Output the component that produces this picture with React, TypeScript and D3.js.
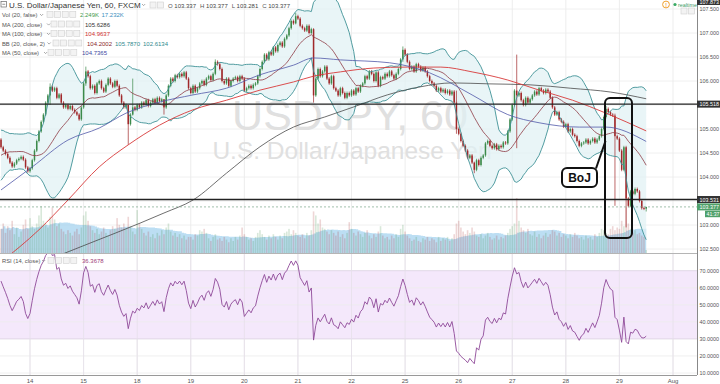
import React from 'react';
import * as d3 from 'd3';

const W = 720;
const H = 384;
const AXIS_X = 697;
const PRICE_BOTTOM = 253;
const RSI_TOP = 254;
const RSI_BOTTOM = 375;
const FONT = '"Liberation Sans", Arial, sans-serif';

// time axis: first hourly candle of each trading day
const dayLabels = ['14', '15', '18', '19', '20', '21', '22', '25', '26', '27', '28', '29', 'Aug'];
const DAY_START = 13;
const HOURS = 24;

// closes before the visible window (only feed BB / RSI)
const priorCloses = [
  103.95, 104.05, 104.0, 104.15, 104.1, 104.25, 104.2, 104.35, 104.3, 104.45,
  104.4, 104.55, 104.5, 104.62, 104.7, 104.65, 104.8, 104.75, 104.85, 104.78,
];

// hourly closes, USDJPY 60, FXCM
const closes = [
  104.62, 104.55, 104.48, 104.4, 104.3, 104.22, 104.28, 104.35, 104.38, 104.42, 104.36, 104.2, 104.12, 104.18,
  104.35, 104.55, 104.75, 104.95, 105.15, 105.3, 105.55, 105.7, 105.88, 105.8, 105.85, 105.65, 105.72,
  105.55, 105.45, 105.5, 105.42, 105.48, 105.4, 105.35, 105.3, 105.2, 105.45, 105.95, 106.2, 106.1,
  105.85, 105.9, 105.75, 105.95, 106.0, 105.85, 105.78, 105.92, 106.05, 105.95, 105.88, 106.0, 105.9,
  105.7, 105.55, 105.45, 105.5, 105.1, 105.3, 105.45, 105.4, 105.5, 105.45,
  105.55, 105.5, 105.6, 105.48, 105.55, 105.62, 105.55, 105.65, 105.58, 105.62, 105.45,
  105.7, 105.9, 106.05, 106.0, 106.12, 106.08, 106.15, 106.1, 106.18, 106.05, 105.85, 105.75, 105.9, 105.78,
  105.85, 105.95, 106.0, 105.92, 106.05, 106.1, 106.02, 106.15, 106.4, 106.35, 106.25,
  106.0, 105.95, 106.05, 105.9, 106.0, 106.05, 106.08, 106.0, 106.1, 106.05,
  105.8, 105.85, 105.9, 105.85, 105.92, 105.95, 106.1, 106.25, 106.4,
  106.55, 106.45, 106.6, 106.55, 106.7, 106.62, 106.75, 106.8, 106.72, 106.88, 106.95,
  107.1, 107.25, 107.2, 107.35, 107.3, 107.15, 107.1, 107.05, 107.15, 107.0, 107.08,
  105.7, 106.05, 106.25, 106.1, 106.2, 106.3, 106.05, 105.95, 106.1, 105.85,
  105.8, 105.7, 105.85, 105.75, 105.65, 105.75, 105.7, 105.8, 105.72, 105.85, 105.78, 105.9, 105.95,
  106.1, 106.05, 106.2, 106.15, 106.0, 106.18, 105.9, 106.08,
  106.05, 106.15, 106.1, 106.2, 106.12, 106.05, 106.15, 106.25, 106.45, 106.65, 106.55,
  106.4, 106.25, 106.3, 106.2, 106.35, 106.3, 106.22, 106.28, 106.2,
  106.1, 106.0, 105.95, 105.9, 105.8, 105.85, 105.78, 105.82, 105.75, 105.8, 105.72, 105.78,
  105.55, 105.0, 104.9, 104.75, 104.65, 104.55, 104.4, 104.45, 104.3, 104.15, 104.35, 104.25,
  104.4, 104.45, 104.7, 104.75, 104.65, 104.6, 104.68, 104.58, 104.65, 104.62, 104.72, 104.7,
  104.95, 105.2, 105.5, 105.8, 105.7, 105.75, 105.6, 105.5, 105.65, 105.55, 105.62,
  105.7, 105.78, 105.72, 105.85, 105.8, 105.75, 105.82, 105.78, 105.65,
  105.45, 105.3, 105.35, 105.2, 105.15, 105.05, 105.1, 104.95, 105.0, 104.88, 104.85, 104.75, 104.65, 104.7,
  104.72, 104.78, 104.7, 104.75, 104.8, 104.72, 104.78, 104.85, 105.0, 105.25, 105.42, 105.35, 105.3, 105.28,
  104.85, 104.8, 104.55, 104.15, 104.62, 103.55, 103.4, 103.7, 103.65, 103.75, 103.7, 103.5, 103.35, 103.34, 103.377,
];

// hourly volume, thousands
const volumes = [
  18, 22, 15, 20, 17, 24, 14, 19, 12, 16, 21, 25, 18,
  26, 20, 18, 22, 28, 35, 24, 22, 19, 27, 34, 25, 20, 22, 18, 16, 14, 17, 15, 13, 16, 18, 14, 19,
  28, 31, 24, 20, 17, 15, 18, 14, 16, 19, 15, 13, 17, 20, 18, 26, 21, 19, 22, 18, 27, 20, 16, 14,
  32, 22, 18, 15, 13, 16, 12, 14, 11, 15, 13, 17, 14, 19, 22, 16, 13, 15, 12, 14, 11, 13, 10, 12,
  12, 10, 14, 13, 17, 16, 18, 15, 11, 9, 12, 14, 10, 11, 9, 12, 10, 8, 11, 9, 12, 10, 13, 19,
  14, 12, 10, 11, 9, 12, 15, 17, 14, 12, 10, 13, 11, 14, 12, 10, 13, 11, 15, 16, 18, 14, 17, 15,
  13, 12, 14, 11, 15, 13, 17, 31, 28, 22, 25, 19, 18, 16, 14, 17, 15, 13, 16, 12, 14, 11, 15, 23,
  18, 15, 13, 16, 14, 12, 15, 17, 13, 11, 14, 12, 16, 20, 13, 11, 12, 10, 13, 11, 14, 12, 18, 21,
  16, 13, 11, 9, 10, 12, 9, 8, 11, 10, 12, 9, 11, 10, 8, 12, 9, 11, 10, 12, 9, 11, 14, 22,
  24, 19, 16, 14, 17, 15, 19, 16, 13, 12, 14, 11, 13, 15, 12, 10, 11, 13, 10, 12, 11, 13, 15, 18,
  20, 22, 41, 24, 19, 17, 15, 18, 14, 13, 16, 12, 14, 11, 13, 15, 12, 14, 17, 16, 13, 15, 12, 14,
  13, 11, 14, 12, 15, 13, 11, 12, 10, 13, 11, 12, 10, 14, 12, 15, 18, 17, 15, 14, 18, 20, 17, 19,
  18, 24, 20, 34, 22, 18, 15, 17, 14, 15, 13, 12, 2.249,
];

// [candle index, high, low] where the wick stands out
const longWicks: [number, number, number][] = [
  [22, 105.95, 105.5], [38, 106.3, 105.9], [57, 105.5, 104.67], [59, 106.05, 105.28],
  [73, 105.62, 105.3], [96, 106.45, 106.12], [132, 107.42, 107.18], [140, 107.1, 105.55],
  [180, 106.72, 106.4], [204, 105.8, 104.9], [212, 104.32, 104.08], [231, 106.55, 104.6],
  [271, 105.48, 105.22], [275, 105.32, 103.4], [280, 104.65, 102.95], [289, 103.377, 103.281],
];
const WICK = 0.03;

// moving averages: [candle index, price]
const ma50: [number, number][] = [
  [0, 103.73], [14, 104.21], [30, 104.77], [44, 105.02], [56, 105.33], [71, 105.56], [86, 105.71],
  [101, 105.85], [116, 106.13], [131, 106.33], [140, 106.48], [152, 106.44], [174, 106.38],
  [192, 106.17], [211, 105.71], [227, 105.3], [241, 105.13], [259, 105.04], [271, 105.04], [289, 104.74],
];
const ma100: [number, number][] = [
  [0, 102.23], [17, 102.9], [30, 103.52], [44, 104.21], [57, 104.67], [71, 105.08], [86, 105.4],
  [101, 105.6], [116, 105.81], [131, 105.98], [140, 106.1], [152, 106.19], [167, 106.27],
  [182, 106.29], [197, 106.29], [211, 106.19], [227, 106.02], [241, 105.81], [256, 105.6],
  [271, 105.33], [289, 104.96],
];
const ma200: [number, number][] = [
  [0, 101.88], [30, 102.44], [73, 103.25], [86, 103.52], [101, 104.08], [116, 104.63], [131, 105.04],
  [145, 105.25], [158, 105.46], [173, 105.71], [188, 105.88], [202, 105.96], [219, 105.94],
  [237, 105.92], [255, 105.85], [273, 105.77], [289, 105.63],
];

const priceTicks = [102.5, 103, 103.5, 104, 104.5, 105, 105.5, 106, 106.5, 107, 107.5];
const hiddenPriceLabels = [103.5, 105.5];
const rsiTicks = [10, 20, 30, 40, 50, 60, 70];

const levelLines = [105.518, 103.531];
const lastPrice = 103.377;
const countdown = '41:37';
const topLabel = '107.873';

const titleText = 'U.S. Dollar/Japanese Yen, 60, FXCM';
const ohlc = [['O', '103.337'], ['H', '103.377'], ['L', '103.281'], ['C', '103.377']];
const volLegend = ['2.249K', '17.232K'];
const ma200Legend = '105.6286';
const ma100Legend = '104.9637';
const bbLegend = ['104.2002', '105.7870', '102.6134'];
const ma50Legend = '104.7365';
const rsiLegend = '36.3678';

const AXIS_FONT = 5.4;

const Boxes = ({ x, y, n }: { x: number; y: number; n: number }) => (
  <g>
    {d3.range(n).map((k) => (
      <rect key={k} x={x + k * 7.6} y={y - 5.5} width={6} height={6} fill="#f3f3f3" stroke="#d0d0d0" strokeWidth={0.6} />
    ))}
  </g>
);

const Chevron = ({ x, y }: { x: number; y: number }) => (
  <path d={`M${x},${y - 3} l1.6,1.6 l1.6,-1.6`} fill="none" stroke="#888" strokeWidth={0.7} />
);

export default function App() {
  const x = d3.scaleLinear().domain([0, 301]).range([1, 673]);
  const y = d3.scaleLinear().domain([102.5, 107.5]).range([249, 9]);
  const yVol = d3.scaleLinear().domain([0, 41]).range([PRICE_BOTTOM, 198]);
  const yRsi = d3.scaleLinear().domain([10, 70]).range([373, 270.7]);

  const all = priorCloses.concat(closes);
  const OFF = priorCloses.length;

  // Bollinger (20, 2)
  const bb = closes.map((_, i) => {
    const win = all.slice(i + OFF - 19, i + OFF + 1);
    const m = d3.mean(win) as number;
    const sd = Math.sqrt(d3.mean(win, (v) => (v - m) ** 2) as number);
    return { i, mid: m, up: m + 2 * sd, lo: m - 2 * sd };
  });

  // RSI (14), Wilder smoothing
  const rsiAll: (number | null)[] = all.map(() => null);
  let g = 0, l = 0;
  for (let k = 1; k <= 14; k++) {
    const d = all[k] - all[k - 1];
    if (d > 0) g += d; else l -= d;
  }
  g /= 14; l /= 14;
  rsiAll[14] = 100 - 100 / (1 + g / l);
  for (let k = 15; k < all.length; k++) {
    const d = all[k] - all[k - 1];
    g = (g * 13 + Math.max(d, 0)) / 14;
    l = (l * 13 + Math.max(-d, 0)) / 14;
    rsiAll[k] = l === 0 ? 100 : 100 - 100 / (1 + g / l);
  }
  const rsi = closes.map((_, i) => [i, rsiAll[i + OFF] as number] as [number, number]);

  // volume MA (20)
  const volMa = volumes.map((_, i) => [i, d3.mean(volumes.slice(Math.max(0, i - 19), i + 1)) as number] as [number, number]);

  const maLine = d3.line<[number, number]>().x((d) => x(d[0])).y((d) => y(d[1])).curve(d3.curveMonotoneX);
  const bbUp = d3.line<typeof bb[0]>().x((d) => x(d.i)).y((d) => y(d.up));
  const bbLo = d3.line<typeof bb[0]>().x((d) => x(d.i)).y((d) => y(d.lo));
  const bbMid = d3.line<typeof bb[0]>().x((d) => x(d.i)).y((d) => y(d.mid));
  const bbArea = d3.area<typeof bb[0]>().x((d) => x(d.i)).y0((d) => y(d.lo)).y1((d) => y(d.up));
  const volArea = d3.area<[number, number]>().x((d) => x(d[0])).y0(PRICE_BOTTOM).y1((d) => yVol(d[1])).curve(d3.curveStepAfter);
  const rsiLine = d3.line<[number, number]>().x((d) => x(d[0])).y((d) => yRsi(d[1]));

  const wickMap = new Map(longWicks.map((w) => [w[0], w]));
  const dayX = dayLabels.map((_, k) => x(DAY_START + k * HOURS));

  const UP = '#3c8a4a';
  const DOWN = '#a0282a';

  return (
    <svg width={W} height={H} style={{ position: 'absolute', left: 0, top: 0, fontFamily: FONT }}>
      <defs>
        <clipPath id="pricePane"><rect x={0} y={0} width={AXIS_X} height={PRICE_BOTTOM} /></clipPath>
        <clipPath id="rsiPane"><rect x={0} y={RSI_TOP} width={AXIS_X} height={RSI_BOTTOM - RSI_TOP} /></clipPath>
      </defs>
      <rect width={W} height={H} fill="#fff" />

      {/* grid */}
      {dayX.map((dx, k) => (
        <line key={k} x1={dx} x2={dx} y1={0} y2={RSI_BOTTOM} stroke="#e9e9e9" strokeWidth={0.8} />
      ))}
      {priceTicks.map((p) => (
        <line key={p} x1={0} x2={AXIS_X} y1={y(p)} y2={y(p)} stroke="#ececec" strokeWidth={0.8} />
      ))}

      {/* watermark */}
      <text x={350} y={130} fontSize={43} fill="#e0e0e0" textAnchor="middle">USDJPY, 60</text>
      <text x={352} y={159} fontSize={24.5} fill="#e0e0e0" textAnchor="middle">U.S. Dollar/Japanese Yen</text>

      <g clipPath="url(#pricePane)">
        {/* volume */}
        <path d={volArea(volMa) || ''} fill="#9fd0ee" opacity={0.7} />
        {volumes.map((v, i) => {
          const o = i === 0 ? priorCloses[OFF - 1] : closes[i - 1];
          return (
            <rect key={i} x={x(i) - 0.8} y={yVol(v)} width={1.6} height={PRICE_BOTTOM - yVol(v)}
              fill={closes[i] >= o ? 'rgba(60,140,70,0.2)' : 'rgba(170,50,50,0.2)'} />
          );
        })}

        {/* Bollinger fill */}
        <path d={bbArea(bb) || ''} fill="#dff1f4" opacity={0.7} />

        {/* candles */}
        {closes.map((c, i) => {
          const o = i === 0 ? priorCloses[OFF - 1] : closes[i - 1];
          const w = wickMap.get(i);
          const hi = w ? Math.max(w[1], o, c) : Math.max(o, c) + WICK;
          const lo = w ? Math.min(w[2], o, c) : Math.min(o, c) - WICK;
          const col = c >= o ? UP : DOWN;
          const top = y(Math.max(o, c));
          const h = Math.max(0.8, y(Math.min(o, c)) - top);
          return (
            <g key={i}>
              <line x1={x(i)} x2={x(i)} y1={y(hi)} y2={y(lo)} stroke={col} strokeWidth={0.7} />
              <rect x={x(i) - 0.75} y={top} width={1.5} height={h} fill={col} />
            </g>
          );
        })}

        {/* indicator lines */}
        <path d={bbUp(bb) || ''} fill="none" stroke="#3f9296" strokeWidth={0.9} />
        <path d={bbLo(bb) || ''} fill="none" stroke="#3f9296" strokeWidth={0.9} />
        <path d={bbMid(bb) || ''} fill="none" stroke="#8e3a44" strokeWidth={0.8} />
        <path d={maLine(ma200) || ''} fill="none" stroke="#4a4a4a" strokeWidth={0.8} />
        <path d={maLine(ma100) || ''} fill="none" stroke="#d83a3a" strokeWidth={0.9} />
        <path d={maLine(ma50) || ''} fill="none" stroke="#5058a8" strokeWidth={0.8} />

        {/* price lines */}
        <line x1={0} x2={AXIS_X} y1={y(lastPrice)} y2={y(lastPrice)} stroke="#7aa58a" strokeWidth={0.7} strokeDasharray="2,2" />
        {levelLines.map((p) => (
          <line key={p} x1={0} x2={AXIS_X} y1={y(p)} y2={y(p)} stroke="#222" strokeWidth={1.3} />
        ))}
      </g>

      {/* pane separators */}
      <line x1={0} x2={W} y1={PRICE_BOTTOM + 0.5} y2={PRICE_BOTTOM + 0.5} stroke="#b5b5b5" strokeWidth={1} />

      {/* RSI pane */}
      <rect x={0} y={yRsi(70)} width={AXIS_X} height={yRsi(30) - yRsi(70)} fill="#f4e8fb" />
      {rsiTicks.map((t) => (
        <line key={t} x1={0} x2={AXIS_X} y1={yRsi(t)} y2={yRsi(t)} stroke={t === 30 || t === 70 ? '#d9cfe0' : '#ececec'} strokeWidth={0.8} />
      ))}
      {dayX.map((dx, k) => (
        <line key={k} x1={dx} x2={dx} y1={RSI_TOP} y2={RSI_BOTTOM} stroke="#e6e0ea" strokeWidth={0.8} />
      ))}
      <g clipPath="url(#rsiPane)">
        <path d={rsiLine(rsi) || ''} fill="none" stroke="#8e4a98" strokeWidth={0.9} />
      </g>
      <line x1={0} x2={W} y1={RSI_BOTTOM + 0.5} y2={RSI_BOTTOM + 0.5} stroke="#999" strokeWidth={1} />

      {/* time axis */}
      {dayLabels.map((d, k) => (
        <text key={d} x={dayX[k]} y={382.5} fontSize={6} fill="#555" textAnchor="middle">{d}</text>
      ))}

      {/* right scale */}
      <rect x={AXIS_X} y={0} width={W - AXIS_X} height={H} fill="#fff" />
      <line x1={AXIS_X + 0.5} x2={AXIS_X + 0.5} y1={0} y2={RSI_BOTTOM} stroke="#888" strokeWidth={1} />
      {priceTicks.filter((p) => !hiddenPriceLabels.includes(p)).map((p) => (
        <text key={p} x={699.5} y={y(p) + 2} fontSize={AXIS_FONT} fill="#555">{p.toFixed(3)}</text>
      ))}
      {rsiTicks.map((t) => (
        <text key={t} x={699.5} y={yRsi(t) + 2} fontSize={AXIS_FONT} fill="#555">{t.toFixed(4)}</text>
      ))}
      <rect x={AXIS_X} y={-2} width={W - AXIS_X} height={7} fill="#333" />
      <text x={699.5} y={3.6} fontSize={AXIS_FONT} fill="#fff">{topLabel}</text>
      {levelLines.map((p) => (
        <g key={p}>
          <rect x={AXIS_X} y={y(p) - 3.5} width={W - AXIS_X} height={7} fill="#333" />
          <text x={699.5} y={y(p) + 2} fontSize={AXIS_FONT} fill="#fff">{p.toFixed(3)}</text>
        </g>
      ))}
      <rect x={AXIS_X} y={y(lastPrice) - 3.5} width={W - AXIS_X} height={7} fill="#4fa06a" />
      <text x={699.5} y={y(lastPrice) + 2} fontSize={AXIS_FONT} fill="#fff">{lastPrice.toFixed(3)}</text>
      <rect x={705} y={y(lastPrice) + 3.8} width={15} height={6.5} fill="#4fa06a" />
      <text x={706.5} y={y(lastPrice) + 8.9} fontSize={5.2} fill="#fff">{countdown}</text>

      {/* realtime badge */}
      <circle cx={666} cy={4.5} r={3.4} fill="#fff" stroke="#f0a030" strokeWidth={1} />
      <text x={666} y={6.6} fontSize={5} fill="#f0a030" textAnchor="middle" fontWeight="bold">!</text>
      <circle cx={675} cy={4.5} r={1.6} fill="#3aaa64" />
      <text x={678} y={6.5} fontSize={5.3} fill="#3a9a64">realtime</text>
      <Boxes x={681} y={13.5} n={2} />

      {/* title and legends */}
      <rect x={1} y={1.5} width={5.5} height={5.5} fill="#fff" stroke="#666" strokeWidth={0.7} />
      <line x1={2.3} x2={5.2} y1={4.25} y2={4.25} stroke="#666" strokeWidth={0.7} />
      <text x={9} y={7.5} fontSize={8} fill="#333">{titleText}</text>
      <Chevron x={142} y={7} />
      <Boxes x={150} y={7.5} n={2} />
      <text x={168} y={7.5} fontSize={6}>
        {ohlc.map(([k, v], j) => (
          <tspan key={k} fill="#555" dx={j === 0 ? 0 : 4}>{k} <tspan fill="#444">{v}</tspan></tspan>
        ))}
      </text>

      <text x={2} y={17} fontSize={5.8} fill="#555">Vol (20, false)</text>
      <Chevron x={40} y={17} />
      <Boxes x={47} y={17} n={4} />
      <text x={80} y={17} fontSize={6} fill="#3f9a4c">{volLegend[0]}</text>
      <text x={101.5} y={17} fontSize={6} fill="#3a8fc0">{volLegend[1]}</text>

      <text x={2} y={26.5} fontSize={5.8} fill="#555">MA (200, close)</text>
      <Chevron x={47} y={26.5} />
      <Boxes x={51} y={26.5} n={4} />
      <text x={85} y={26.5} fontSize={6} fill="#333">{ma200Legend}</text>

      <text x={2} y={36} fontSize={5.8} fill="#555">MA (100, close)</text>
      <Chevron x={47} y={36} />
      <Boxes x={51} y={36} n={4} />
      <text x={85} y={36} fontSize={6} fill="#d03030">{ma100Legend}</text>

      <text x={2} y={45.5} fontSize={5.8} fill="#555">BB (20, close, 2)</text>
      <Chevron x={47.5} y={45.5} />
      <Boxes x={53} y={45.5} n={4} />
      <text x={87} y={45.5} fontSize={6} fill="#8b1f2a">{bbLegend[0]}</text>
      <text x={115} y={45.5} fontSize={6} fill="#2f8a8e">{bbLegend[1]}</text>
      <text x={143} y={45.5} fontSize={6} fill="#2f8a8e">{bbLegend[2]}</text>

      <text x={2} y={55} fontSize={5.8} fill="#555">MA (50, close)</text>
      <Chevron x={44} y={55} />
      <Boxes x={48} y={55} n={4} />
      <text x={82} y={55} fontSize={6} fill="#4048a0">{ma50Legend}</text>

      <text x={2} y={263} fontSize={5.8} fill="#555">RSI (14, close)</text>
      <Chevron x={42} y={263} />
      <Boxes x={48} y={263} n={4} />
      <text x={82} y={263} fontSize={6} fill="#a0407a">{rsiLegend}</text>

      {/* BoJ annotation */}
      <rect x={605} y={98} width={27} height={140} rx={5} fill="none" stroke="#111" strokeWidth={2} />
      <line x1={596} x2={605.5} y1={168.5} y2={141} stroke="#111" strokeWidth={2} />
      <rect x={562} y={168} width={35} height={19} rx={5} fill="#fff" stroke="#111" strokeWidth={2} />
      <text x={579.5} y={181.5} fontSize={12} fontWeight="bold" fill="#111" textAnchor="middle">BoJ</text>
    </svg>
  );
}
